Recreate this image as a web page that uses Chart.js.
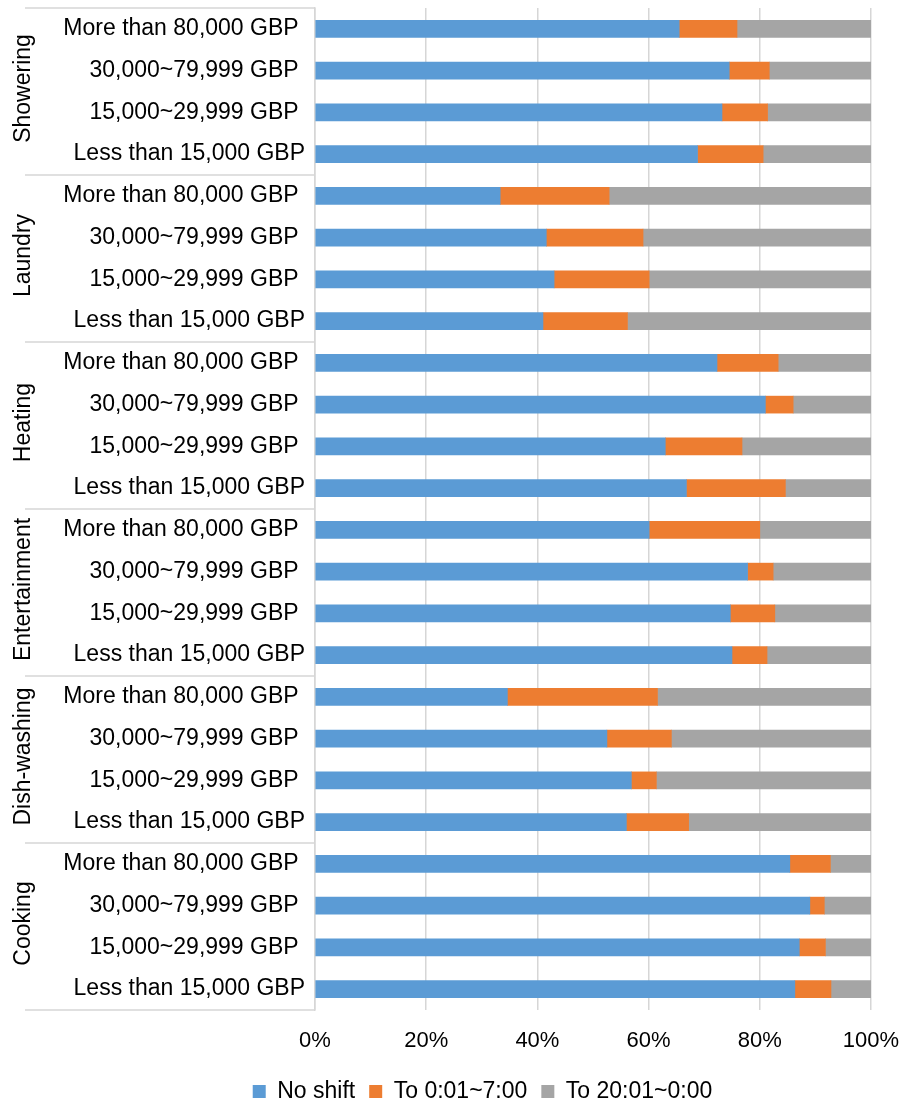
<!DOCTYPE html>
<html>
<head>
<meta charset="utf-8">
<script src="https://cdn.jsdelivr.net/npm/chart.js@4.4.1/dist/chart.umd.min.js"></script>
<style>
  html, body { margin: 0; padding: 0; background: #ffffff; }
  #wrap { width: 904px; height: 1101px; }
</style>
</head>
<body>
<div id="wrap"><canvas id="c" width="904" height="1101"></canvas></div>
<script>
// Appliance groups, top to bottom
const groups = ['Showering', 'Laundry', 'Heating', 'Entertainment', 'Dish-washing', 'Cooking'];
// Household income bands within each group, top to bottom
const incomes = ['More than 80,000 GBP ', '30,000~79,999 GBP ', '15,000~29,999 GBP ', 'Less than 15,000 GBP'];
const seriesNames = ['No shift', 'To 0:01~7:00', 'To 20:01~0:00'];

// Share of households (%) per group × income band
const noShift = [
  65.5, 74.5, 73.2, 68.8,   // Showering
  33.3, 41.6, 43.0, 41.0,   // Laundry
  72.3, 81.0, 63.0, 66.8,   // Heating
  60.1, 77.8, 74.7, 75.0,   // Entertainment
  34.6, 52.5, 56.9, 56.0,   // Dish-washing
  85.4, 89.0, 87.1, 86.3    // Cooking
];
const toNight = [
  10.4, 7.2, 8.2, 11.8,
  19.6, 17.4, 17.1, 15.2,
  11.0, 5.0, 13.8, 17.8,
  19.9, 4.6, 8.0, 6.3,
  27.0, 11.6, 4.5, 11.2,
  7.3, 2.6, 4.7, 6.5
];
const toLateEvening = [
  24.1, 18.3, 18.6, 19.4,
  47.1, 41.0, 39.9, 43.8,
  16.7, 14.0, 23.2, 15.4,
  20.0, 17.6, 17.3, 18.7,
  38.4, 35.9, 38.6, 32.8,
  7.3, 8.4, 8.2, 7.2
];
const xTickStep = 20;

const colors = ['#5B9BD5', '#ED7D31', '#A5A5A5'];
const gridColor = '#d6d6d6';
const FONT = '"Liberation Sans", Arial, Helvetica, sans-serif';

const rowLabels = groups.flatMap(() => incomes);

Chart.defaults.font.family = FONT;
Chart.defaults.color = '#000000';

// Group names on the left and the separator lines between groups
const groupLabels = {
  id: 'groupLabels',
  afterDraw(chart) {
    const { ctx, chartArea, scales: { y } } = chart;
    const per = incomes.length;
    const bounds = [];
    for (let g = 0; g <= groups.length; g++) {
      if (g === 0) bounds.push(chartArea.top);
      else if (g === groups.length) bounds.push(chartArea.bottom);
      else bounds.push((y.getPixelForValue(g * per - 1) + y.getPixelForValue(g * per)) / 2);
    }
    ctx.save();
    ctx.strokeStyle = gridColor;
    ctx.lineWidth = 1.5;
    bounds.forEach(b => {
      ctx.beginPath();
      ctx.moveTo(25, b);
      ctx.lineTo(chartArea.left, b);
      ctx.stroke();
    });
    ctx.fillStyle = '#000000';
    ctx.font = '23px ' + FONT;
    ctx.textAlign = 'center';
    ctx.textBaseline = 'alphabetic';
    groups.forEach((name, g) => {
      const cy = (bounds[g] + bounds[g + 1]) / 2 - 3;
      ctx.save();
      ctx.translate(30, cy);
      ctx.rotate(-Math.PI / 2);
      ctx.fillText(name, 0, 0);
      ctx.restore();
    });
    ctx.restore();
  }
};

// Nudge the legend row under the chart
const legendOffset = {
  id: 'legendOffset',
  afterLayout(chart) {
    const l = chart.legend;
    const dx = 47, dy = 12;
    l.left += dx; l.right += dx;
    l.top += dy; l.bottom += dy;
  }
};

new Chart(document.getElementById('c'), {
  type: 'bar',
  data: {
    labels: rowLabels,
    datasets: [
      { label: seriesNames[0], data: noShift, backgroundColor: colors[0] },
      { label: seriesNames[1], data: toNight, backgroundColor: colors[1] },
      { label: seriesNames[2], data: toLateEvening, backgroundColor: colors[2] }
    ]
  },
  options: {
    indexAxis: 'y',
    responsive: false,
    animation: false,
    devicePixelRatio: 1,
    datasets: { bar: { barThickness: 17, borderWidth: 0 } },
    layout: { padding: { left: 0, right: 33, top: 8, bottom: 0 } },
    plugins: {
      tooltip: { enabled: false },
      legend: {
        position: 'bottom',
        labels: {
          boxWidth: 13,
          boxHeight: 13,
          padding: 14,
          color: '#000000',
          font: { size: 23, family: FONT }
        }
      }
    },
    scales: {
      x: {
        stacked: true,
        min: 0,
        max: 100,
        ticks: {
          stepSize: xTickStep,
          callback: v => v + '%',
          font: { size: 22, family: FONT },
          color: '#000000',
          padding: 18,
          maxRotation: 0
        },
        grid: { color: gridColor, lineWidth: 1.5, drawTicks: false },
        border: { display: false },
        afterFit(scale) {
          scale.height = 44;
          scale.paddingLeft = 0;
          scale.paddingRight = 0;
        }
      },
      y: {
        stacked: true,
        grid: { display: false, drawTicks: false },
        border: { display: true, color: gridColor, width: 1.5 },
        ticks: {
          autoSkip: false,
          font: { size: 23, family: FONT },
          color: '#000000',
          padding: 10
        },
        afterFit(scale) {
          scale.width = 315;
          scale.paddingTop = 0;
          scale.paddingBottom = 0;
        }
      }
    }
  },
  plugins: [groupLabels, legendOffset]
});
</script>
</body>
</html>
